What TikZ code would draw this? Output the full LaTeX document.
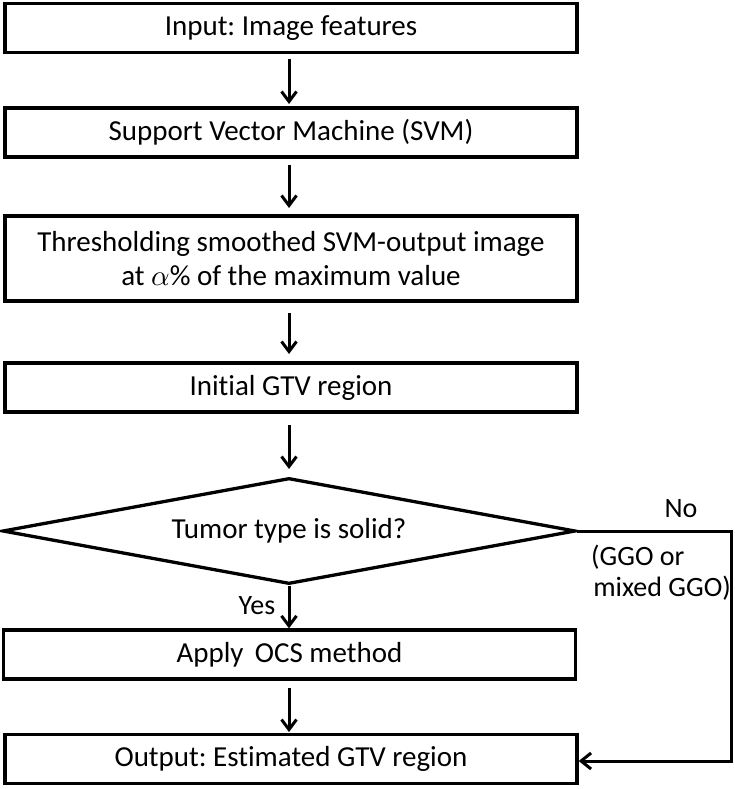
\documentclass[tikz,border=0pt]{standalone}
\usepackage{fontspec}
\setmainfont{Carlito}[Ligatures=NoCommon]
\usepackage{unicode-math}
\usetikzlibrary{arrows.meta,shapes.geometric}
\begin{document}
\frenchspacing
\begin{tikzpicture}[x=1pt,y=-1pt,
  stepbox/.style={draw,line width=3.3pt,minimum width=572pt,minimum height=49pt,inner sep=0pt,font=\fontsize{29}{34}\selectfont,align=center},
  conn/.style={line width=3pt,-{Straight Barb[length=10pt,width=15pt,line width=3pt]}},
  lbl/.style={font=\fontsize{28}{31}\selectfont,inner sep=0pt}]
\useasboundingbox (0,0) rectangle (735,789);
\node[stepbox] (b1) at (291,28) {Input: Image features};
\node[stepbox] (b2) at (291,132.5) {Support Vector Machine (SVM)};
\node[stepbox,minimum height=85pt] (b3) at (291,258.5) {Thresholding smoothed SVM-output image\\at $\alpha$\% of the maximum value};
\node[stepbox] (b4) at (291,387.5) {Initial GTV region};
\node[draw,diamond,line width=3.3pt,aspect=5.4,minimum width=573pt,minimum height=106pt,inner sep=0pt,font=\fontsize{29}{34}\selectfont] (d) at (289,531) {Tumor type is solid?};
\node[stepbox] (b5) at (289.5,654.5) {Apply\, OCS method};
\node[stepbox] (b6) at (291,759) {Output: Estimated GTV region};
\coordinate (c1) at (731.5,531);
\coordinate (c2) at (731.5,761);
\draw[conn] (289,59) -- (289,104);
\draw[conn] (289,165) -- (289,208);
\draw[conn] (289,313) -- (289,354);
\draw[conn] (289,425) -- (289,469);
\draw[conn] (d.south) -- (b5.north -| d.south);
\draw[conn] (289,688) -- (289,732);
\draw[line width=3pt,-{Straight Barb[length=10pt,width=16pt,line width=3pt]}] (d.east) -- (c1) -- (c2) -- (b6.east |- c2);
\node[lbl] (no) at (681,509) {No};
\node[lbl,anchor=west] (ggo1) at (591,557) {(GGO or};
\node[lbl,anchor=east] (ggo2) at (731,588) {mixed GGO)};
\node[lbl] (yes) at (257,606) {Yes};
\end{tikzpicture}
\end{document}
